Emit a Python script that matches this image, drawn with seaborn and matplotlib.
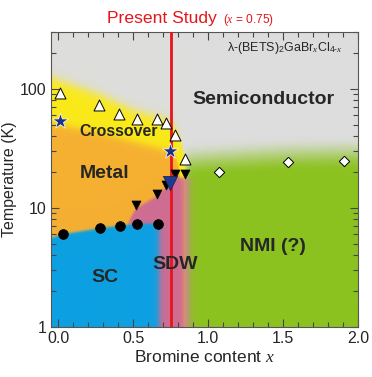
import numpy as np
import pandas as pd
import seaborn as sns
import matplotlib
matplotlib.use("Agg")
import matplotlib.pyplot as plt
from matplotlib.ticker import LogLocator, FixedLocator, NullFormatter

up_x = [0.01, 0.27, 0.405, 0.527, 0.656, 0.716, 0.78, 0.845]
up_T = [93, 73, 62, 56, 56, 52, 41, 25.7]
star_x = [0.01, 0.745]
star_T = [54, 30]
down_x = [0.52, 0.655, 0.715, 0.78, 0.845]
down_T = [10.6, 13.1, 15.6, 19.3, 19.3]
big_x = [0.745]
big_T = [16.3]
circ_x = [0.027, 0.28, 0.41, 0.527, 0.667]
circ_T = [6.0, 6.75, 7.1, 7.35, 7.35]
diam_x = [1.07, 1.53, 1.905]
diam_T = [20, 24.2, 25]

# grenzen van de fasegebieden
cross_x = [-0.05, 0.0, 0.27, 0.5, 0.7, 0.75, 0.79, 0.82, 0.84, 0.85]
cross_T = [126, 118, 90, 66, 56, 52, 45, 36, 26, 20]
metal_x = [-0.05, 0.0, 0.3, 0.5, 0.7, 0.745, 0.78, 0.80, 0.81, 0.82]
metal_T = [51, 50, 42, 36, 31, 30, 27, 23, 19, 10]
sdw_x = [0.46, 0.52, 0.655, 0.715, 0.745, 0.78, 0.85, 0.95]
sdw_T = [7.5, 10.0, 12.5, 14.8, 16.0, 18.0, 18.0, 18.0]
sc_x = [-0.05, 0.03, 0.28, 0.41, 0.53, 0.67, 0.75]
sc_T = [5.6, 6.0, 6.75, 7.1, 7.35, 7.4, 7.4]
nmi_x = [0.85, 1.0, 1.5, 2.0]
nmi_T = [18, 18.5, 20, 20.5]

x_present = 0.75

sns.set_style("ticks")
plt.rcParams['font.family'] = ['Liberation Sans', 'DejaVu Sans']
plt.rcParams['mathtext.fontset'] = 'custom'
plt.rcParams['mathtext.rm'] = 'Liberation Sans'
plt.rcParams['mathtext.it'] = 'Liberation Serif:italic'

fig = plt.figure(figsize=(3.72, 3.77), dpi=100)
pos = [51 / 372, 50 / 377, 307 / 372, 295 / 377]

# achtergrond met kleurverlopen
xmin, xmax = -0.05, 2.0
lmin, lmax = 0.0, np.log10(300)
X = np.linspace(xmin, xmax, 820)
L = np.linspace(lmin, lmax, 600)
XX, LL = np.meshgrid(X, L)


def sig(d, w):
    return 1 / (1 + np.exp(-np.clip(d / w, -50, 50)))


def grens(xs, Ts, right=-5.0):
    return np.interp(XX, xs, np.log10(Ts), right=right)


gray = np.array([221, 221, 221]) / 255
green = np.array([140, 194, 32]) / 255
yellow = np.array([250, 234, 25]) / 255
orange = np.array([245, 176, 50]) / 255
pink = np.array([207, 108, 146]) / 255
blue = np.array([12, 160, 226]) / 255

img = np.ones(XX.shape + (3,)) * gray


def meng(img, kleur, w):
    return img * (1 - w[..., None]) + kleur * w[..., None]


g_top = np.interp(XX, nmi_x, np.log10(nmi_T))
t = np.clip((g_top + 0.3 - LL) / 0.3, 0, 1)
w = sig(XX - 0.85, 0.012) * t * t * (3 - 2 * t)
img = meng(img, green, w)
img = meng(img, yellow, sig(grens(cross_x, cross_T) - LL, 0.025))
img = meng(img, orange, sig(grens(metal_x, metal_T) - LL, 0.02))
w = sig(grens(sdw_x, sdw_T) - LL, 0.008) * sig(XX - 0.47, 0.006) * sig(0.862 - XX, 0.017)
img = meng(img, pink, w)
w = sig(grens(sc_x, sc_T) - LL, 0.006) * sig(0.672 - XX, 0.011)
img = meng(img, blue, w)

ax_bg = fig.add_axes(pos)
ax_bg.imshow(img, origin='lower', extent=[xmin, xmax, lmin, lmax], aspect='auto',
             interpolation='bilinear')
ax_bg.set_xlim(xmin, xmax)
ax_bg.set_ylim(lmin, lmax)
ax_bg.axis('off')

ax = fig.add_axes(pos)
ax.patch.set_alpha(0)
ax.set_yscale('log')
ax.set_xlim(xmin, xmax)
ax.set_ylim(1, 300)

ax.axvline(x_present, color='#e8141c', lw=2, zorder=3)

sns.scatterplot(x=up_x, y=up_T, marker='^', s=62, color='white', edgecolor='black',
                linewidth=0.7, ax=ax, zorder=4)
sns.scatterplot(x=down_x, y=down_T, marker='v', s=42, color='black', edgecolor='black',
                linewidth=0.5, ax=ax, zorder=4)
sns.scatterplot(x=circ_x, y=circ_T, marker='o', s=50, color='black', edgecolor='black',
                linewidth=0.5, ax=ax, zorder=4)
sns.scatterplot(x=diam_x, y=diam_T, marker='D', s=28, color='white', edgecolor='black',
                linewidth=0.7, ax=ax, zorder=4)
sns.scatterplot(x=star_x, y=star_T, marker='*', s=140, color='#1b2f8c', edgecolor='white',
                linewidth=0.5, ax=ax, zorder=5)
sns.scatterplot(x=big_x, y=big_T, marker='v', s=105, color='#1f3a8f', edgecolor='#10204f',
                linewidth=0.5, ax=ax, zorder=5)

# assen
ax.xaxis.set_major_locator(FixedLocator([0.0, 0.5, 1.0, 1.5, 2.0]))
ax.xaxis.set_minor_locator(FixedLocator(np.arange(0, 2.01, 0.1)))
ax.set_xticklabels(['0.0', '0.5', '1.0', '1.5', '2.0'])
ax.yaxis.set_major_locator(FixedLocator([1, 10, 100]))
ax.set_yticklabels(['1', '10', '100'])
ax.yaxis.set_minor_locator(LogLocator(base=10, subs=np.arange(2, 10), numticks=20))
ax.yaxis.set_minor_formatter(NullFormatter())
ax.tick_params(which='both', direction='in', top=True, right=True, labelsize=11.5,
               color='#444444', pad=3)
ax.tick_params(which='major', length=6, width=0.8)
ax.tick_params(which='minor', length=3.5, width=0.8)
for sp in ax.spines.values():
    sp.set_color('#555555')
    sp.set_linewidth(0.8)

ax.set_xlabel('Bromine content $x$', fontsize=12.5, labelpad=2)
ax.set_ylabel('Temperature (K)', fontsize=11.5, labelpad=2)

# teksten in de gebieden
ax.text(1.368, 81, 'Semiconductor', fontsize=14, fontweight='bold', ha='center', va='center')
ax.text(0.40, 43.5, 'Crossover', fontsize=11.4, fontweight='bold', ha='center', va='center')
ax.text(0.31, 19.3, 'Metal', fontsize=14, fontweight='bold', ha='center', va='center')
ax.text(0.31, 2.58, 'SC', fontsize=14, fontweight='bold', ha='center', va='center')
ax.text(0.78, 3.32, 'SDW', fontsize=14, fontweight='bold', ha='center', va='center', zorder=6)
ax.text(1.43, 4.7, 'NMI (?)', fontsize=14, fontweight='bold', ha='center', va='center')
ax.text(1.90, 221, r'λ-(BETS)$_2$GaBr$_x$Cl$_{4\text{-}x}$', fontsize=9, ha='right', va='center')

fig.text(107 / 372, 1 - 23 / 377, 'Present Study', color='#e8141c', fontsize=12.6,
         ha='left', va='baseline')
fig.text(223 / 372, 1 - 23 / 377, '($x$ = 0.75)', color='#e8141c', fontsize=8.6,
         ha='left', va='baseline')

fig.savefig('out.png', dpi=100)
